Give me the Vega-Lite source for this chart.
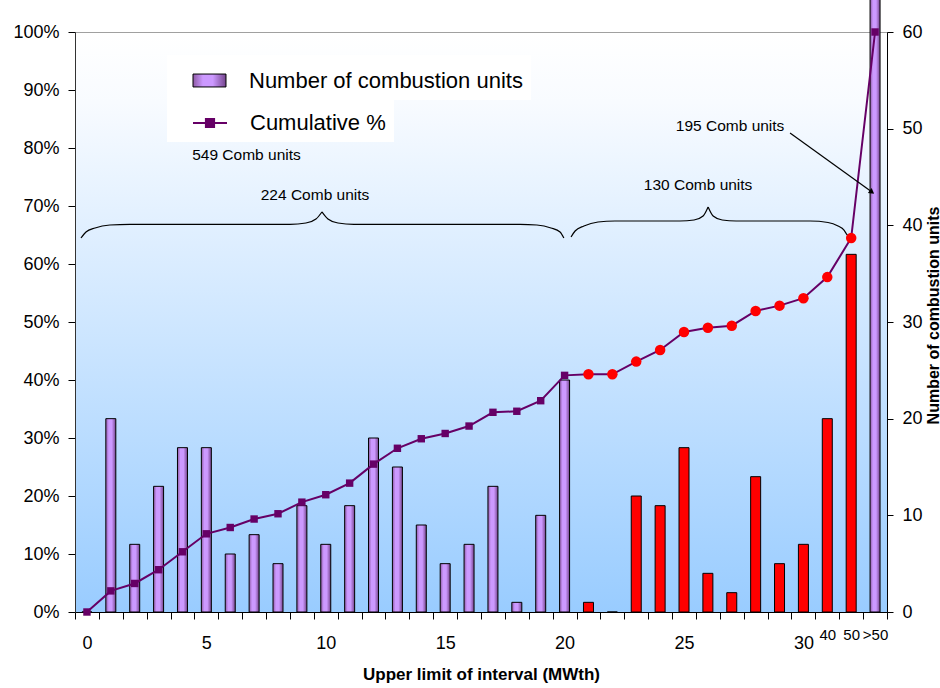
{
  "$schema": "https://vega.github.io/schema/vega-lite/v6.json",
  "width": 812,
  "height": 580,
  "autosize": {"type": "none"},
  "padding": {"left": 75, "top": 32, "right": 53, "bottom": 76},
  "background": "white",
  "view": {
    "fill": {
      "gradient": "linear", "x1": 0, "y1": 0, "x2": 0, "y2": 1,
      "stops": [
        {"offset": 0, "color": "#FFFFFF"},
        {"offset": 0.12, "color": "#F8FBFF"},
        {"offset": 1, "color": "#99CCFF"}
      ]
    },
    "stroke": "#A0A0A0",
    "strokeWidth": 1
  },
  "config": {
    "font": "Liberation Sans",
    "axis": {"grid": false, "labelFont": "Liberation Sans", "titleFont": "Liberation Sans", "labelColor": "#000000", "titleColor": "#000000", "tickColor": "#000000", "domainColor": "#000000", "labelOverlap": false, "labelFlush": false},
    "legend": {"labelFont": "Liberation Sans", "labelFontSize": 22, "labelColor": "#000000", "labelLimit": 400, "fillColor": "#FFFFFF", "padding": 8, "symbolSize": 1156, "symbolOffset": 17, "labelOffset": 22}
  },
  "datasets": {
    "bins": [
      {"idx": 0, "upper": "0", "units": 0, "pct": 0, "grp": "Number of combustion units"},
      {"idx": 1, "upper": "1", "units": 20, "pct": 3.64, "grp": "Number of combustion units"},
      {"idx": 2, "upper": "2", "units": 7, "pct": 4.92, "grp": "Number of combustion units"},
      {"idx": 3, "upper": "3", "units": 13, "pct": 7.29, "grp": "Number of combustion units"},
      {"idx": 4, "upper": "4", "units": 17, "pct": 10.38, "grp": "Number of combustion units"},
      {"idx": 5, "upper": "5", "units": 17, "pct": 13.48, "grp": "Number of combustion units"},
      {"idx": 6, "upper": "6", "units": 6, "pct": 14.57, "grp": "Number of combustion units"},
      {"idx": 7, "upper": "7", "units": 8, "pct": 16.03, "grp": "Number of combustion units"},
      {"idx": 8, "upper": "8", "units": 5, "pct": 16.94, "grp": "Number of combustion units"},
      {"idx": 9, "upper": "9", "units": 11, "pct": 18.94, "grp": "Number of combustion units"},
      {"idx": 10, "upper": "10", "units": 7, "pct": 20.22, "grp": "Number of combustion units"},
      {"idx": 11, "upper": "11", "units": 11, "pct": 22.22, "grp": "Number of combustion units"},
      {"idx": 12, "upper": "12", "units": 18, "pct": 25.5, "grp": "Number of combustion units"},
      {"idx": 13, "upper": "13", "units": 15, "pct": 28.23, "grp": "Number of combustion units"},
      {"idx": 14, "upper": "14", "units": 9, "pct": 29.87, "grp": "Number of combustion units"},
      {"idx": 15, "upper": "15", "units": 5, "pct": 30.78, "grp": "Number of combustion units"},
      {"idx": 16, "upper": "16", "units": 7, "pct": 32.06, "grp": "Number of combustion units"},
      {"idx": 17, "upper": "17", "units": 13, "pct": 34.43, "grp": "Number of combustion units"},
      {"idx": 18, "upper": "18", "units": 1, "pct": 34.61, "grp": "Number of combustion units"},
      {"idx": 19, "upper": "19", "units": 10, "pct": 36.43, "grp": "Number of combustion units"},
      {"idx": 20, "upper": "20", "units": 24, "pct": 40.8, "grp": "Number of combustion units"},
      {"idx": 21, "upper": "21", "units": 1, "pct": 40.98, "grp": "21-50 MWth"},
      {"idx": 22, "upper": "22", "units": 0, "pct": 40.98, "grp": "21-50 MWth"},
      {"idx": 23, "upper": "23", "units": 12, "pct": 43.17, "grp": "21-50 MWth"},
      {"idx": 24, "upper": "24", "units": 11, "pct": 45.17, "grp": "21-50 MWth"},
      {"idx": 25, "upper": "25", "units": 17, "pct": 48.27, "grp": "21-50 MWth"},
      {"idx": 26, "upper": "26", "units": 4, "pct": 49.0, "grp": "21-50 MWth"},
      {"idx": 27, "upper": "27", "units": 2, "pct": 49.36, "grp": "21-50 MWth"},
      {"idx": 28, "upper": "28", "units": 14, "pct": 51.91, "grp": "21-50 MWth"},
      {"idx": 29, "upper": "29", "units": 5, "pct": 52.82, "grp": "21-50 MWth"},
      {"idx": 30, "upper": "30", "units": 7, "pct": 54.1, "grp": "21-50 MWth"},
      {"idx": 31, "upper": "40", "units": 20, "pct": 57.74, "grp": "21-50 MWth"},
      {"idx": 32, "upper": "50", "units": 37, "pct": 64.48, "grp": "21-50 MWth"},
      {"idx": 33, "upper": ">50", "units": 195, "pct": 100, "grp": "Number of combustion units"}
    ],
    "braces": [
      {"part": "a1", "idx": -0.25, "pct": 64.48},
      {"part": "a1", "idx": -0.04, "pct": 65.52},
      {"part": "a1", "idx": 0.34, "pct": 66.21},
      {"part": "a1", "idx": 0.96, "pct": 66.72},
      {"part": "a1", "idx": 1.8, "pct": 66.84},
      {"part": "a1", "idx": 8.5, "pct": 66.84},
      {"part": "a1", "idx": 9.17, "pct": 67.07},
      {"part": "a1", "idx": 9.59, "pct": 67.76},
      {"part": "a1", "idx": 9.84, "pct": 68.97},
      {"part": "a2", "idx": 9.84, "pct": 68.97},
      {"part": "a2", "idx": 10.09, "pct": 67.76},
      {"part": "a2", "idx": 10.51, "pct": 67.07},
      {"part": "a2", "idx": 11.18, "pct": 66.84},
      {"part": "a2", "idx": 18.13, "pct": 66.84},
      {"part": "a2", "idx": 18.84, "pct": 66.72},
      {"part": "a2", "idx": 19.43, "pct": 66.21},
      {"part": "a2", "idx": 19.81, "pct": 65.52},
      {"part": "a2", "idx": 19.97, "pct": 64.48},
      {"part": "b1", "idx": 20.27, "pct": 64.66},
      {"part": "b1", "idx": 20.44, "pct": 65.69},
      {"part": "b1", "idx": 20.81, "pct": 66.55},
      {"part": "b1", "idx": 21.4, "pct": 67.24},
      {"part": "b1", "idx": 22.11, "pct": 67.41},
      {"part": "b1", "idx": 24.83, "pct": 67.41},
      {"part": "b1", "idx": 25.42, "pct": 67.59},
      {"part": "b1", "idx": 25.8, "pct": 68.28},
      {"part": "b1", "idx": 26.01, "pct": 69.83},
      {"part": "b2", "idx": 26.01, "pct": 69.83},
      {"part": "b2", "idx": 26.22, "pct": 68.28},
      {"part": "b2", "idx": 26.6, "pct": 67.59},
      {"part": "b2", "idx": 27.18, "pct": 67.41},
      {"part": "b2", "idx": 30.28, "pct": 67.41},
      {"part": "b2", "idx": 31.03, "pct": 67.16},
      {"part": "b2", "idx": 31.45, "pct": 66.55},
      {"part": "b2", "idx": 31.7, "pct": 65.86},
      {"part": "b2", "idx": 31.83, "pct": 65.0}
    ],
    "notes": [
      {"label": "549 Comb units", "idx": 6.68, "pct": 78.8},
      {"label": "224 Comb units", "idx": 9.55, "pct": 71.9},
      {"label": "130 Comb units", "idx": 25.59, "pct": 73.6},
      {"label": "195 Comb units", "idx": 26.93, "pct": 83.8}
    ],
    "arrow": [
      {"idx": 29.44, "pct": 82.6, "idx2": 32.87, "pct2": 72.4}
    ],
    "arrowTip": [
      {"idx": 32.87, "pct": 72.4}
    ]
  },
  "encoding": {
    "x": {
      "field": "idx", "type": "quantitative",
      "scale": {"domain": [-0.5, 33.5], "nice": false, "zero": false, "padding": 0},
      "axis": {
        "values": [-0.5, 0.5, 1.5, 2.5, 3.5, 4.5, 5.5, 6.5, 7.5, 8.5, 9.5, 10.5, 11.5, 12.5, 13.5, 14.5, 15.5, 16.5, 17.5, 18.5, 19.5, 20.5, 21.5, 22.5, 23.5, 24.5, 25.5, 26.5, 27.5, 28.5, 29.5, 30.5, 31.5, 32.5, 33.5],
        "labelExpr": "datum.value < 30 ? ((datum.value + 0.5) % 5 == 0 ? format(datum.value + 0.5, 'd') : '') : datum.value < 31 ? '40' : datum.value < 32 ? '50' : datum.value < 33 ? '>50' : ''",
        "labelOffset": 11.94,
        "labelFontSize": {"condition": {"test": "datum.value > 30", "value": 15}, "value": 18},
        "labelBaseline": {"condition": {"test": "datum.value > 30", "value": "middle"}, "value": "top"},
        "labelPadding": 15,
        "labelOverlap": false,
        "labelFlush": false,
        "labelBound": false,
        "tickSize": 7,
        "title": "Upper limit of interval (MWth)",
        "titleFontSize": 17,
        "titleFontWeight": "bold",
        "titlePadding": 14
      }
    }
  },
  "layer": [
    {
      "encoding": {
        "y": {
          "field": "units", "type": "quantitative", "stack": null,
          "scale": {"domain": [0, 60], "nice": false},
          "axis": {
            "orient": "right",
            "values": [0, 10, 20, 30, 40, 50, 60],
            "tickSize": 6,
            "labelPadding": 9,
            "labelFontSize": 18,
            "title": "Number of combustion units",
            "titleFontSize": 16,
            "titleFontWeight": "bold",
            "titleAngle": 270,
            "titleX": 51,
            "titleY": 283,
            "titleAlign": "center",
            "titleBaseline": "alphabetic"
          }
        }
      },
      "layer": [
        {
          "data": {"name": "bins"},
          "transform": [{"filter": "datum.grp === 'Number of combustion units'"}],
          "mark": {
            "type": "bar", "orient": "vertical", "size": 10, "strokeWidth": 1,
            "fill": {
              "gradient": "linear", "x1": 0, "y1": 0, "x2": 1, "y2": 0,
              "stops": [
                {"offset": 0, "color": "#8E5AA6"},
                {"offset": 0.3, "color": "#CC99FF"},
                {"offset": 0.6, "color": "#CC99FF"},
                {"offset": 1, "color": "#74448C"}
              ]
            }
          },
          "encoding": {
            "stroke": {
              "datum": "Number of combustion units", "type": "nominal",
              "scale": {"domain": ["Number of combustion units"], "range": ["#000000"]},
              "legend": {
                "title": null,
                "orient": "none",
                "legendX": 92,
                "legendY": 23,
                "symbolType": "M-0.97,-0.38H0.97V0.38H-0.97Z",
                "symbolStrokeWidth": 1
              }
            }
          }
        },
        {
          "data": {"name": "bins"},
          "transform": [{"filter": "datum.grp === '21-50 MWth'"}],
          "mark": {"type": "bar", "orient": "vertical", "size": 10, "fill": "#FF0000", "stroke": "#000000", "strokeWidth": 1}
        }
      ]
    },
    {
      "encoding": {
        "y": {
          "field": "pct", "type": "quantitative",
          "scale": {"domain": [0, 100], "nice": false},
          "axis": {
            "orient": "left",
            "values": [0, 10, 20, 30, 40, 50, 60, 70, 80, 90, 100],
            "labelExpr": "datum.value + '%'",
            "tickSize": 7,
            "labelPadding": 9,
            "labelFontSize": 18,
            "domainColor": "#333333",
            "title": null
          }
        }
      },
      "layer": [
        {
          "data": {"name": "bins"},
          "mark": {"type": "line", "strokeWidth": 2},
          "encoding": {
            "color": {
              "datum": "Cumulative %", "type": "nominal",
              "scale": {"domain": ["Cumulative %"], "range": ["#660066"]},
              "legend": {
                "title": null,
                "orient": "none",
                "legendX": 92,
                "legendY": 65,
                "symbolType": "M-1,0H1M-0.24,-0.24H0.24V0.24H-0.24Z",
                "symbolFillColor": "#660066",
                "symbolStrokeColor": "#660066",
                "symbolStrokeWidth": 2
              }
            }
          }
        },
        {
          "data": {"name": "bins"},
          "transform": [{"filter": "datum.grp === 'Number of combustion units'"}],
          "mark": {"type": "point", "shape": "square", "filled": true, "size": 55, "color": "#660066", "opacity": 1}
        },
        {
          "data": {"name": "bins"},
          "transform": [{"filter": "datum.grp === '21-50 MWth'"}],
          "mark": {"type": "circle", "size": 110, "color": "#FF0000", "opacity": 1}
        },
        {
          "data": {"name": "braces"},
          "mark": {"type": "line", "interpolate": "monotone", "color": "#000000", "strokeWidth": 1.2},
          "encoding": {
            "detail": {"field": "part", "type": "nominal"}
          }
        },
        {
          "data": {"name": "notes"},
          "mark": {"type": "text", "font": "Liberation Sans", "fontSize": 15.5, "color": "#000000", "align": "center", "baseline": "middle"},
          "encoding": {
            "text": {"field": "label", "type": "nominal"}
          }
        },
        {
          "data": {"name": "arrow"},
          "mark": {"type": "rule", "color": "#000000", "strokeWidth": 1.2},
          "encoding": {
            "x2": {"field": "idx2"},
            "y2": {"field": "pct2"}
          }
        },
        {
          "data": {"name": "arrowTip"},
          "mark": {"type": "point", "shape": "triangle-right", "angle": 36, "size": 40, "filled": true, "color": "#000000", "opacity": 1}
        }
      ]
    }
  ],
  "resolve": {"scale": {"y": "independent"}}
}
